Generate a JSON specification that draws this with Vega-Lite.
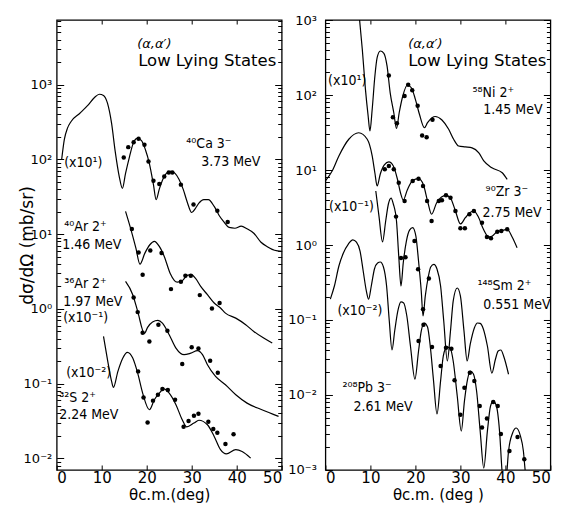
{
  "$schema": "https://vega.github.io/schema/vega-lite/v6.json",
  "background": "white",
  "padding": {"left": 17.7, "top": 13, "right": 12, "bottom": 2},
  "config": {
    "view": {"stroke": "black", "strokeWidth": 1.3},
    "font": "DejaVu Sans",
    "axis": {"domain": false, "grid": false, "tickColor": "black", "tickWidth": 1, "labelColor": "black", "labelFont": "DejaVu Sans", "labelFontSize": 13, "titleFont": "DejaVu Sans", "titleFontWeight": "normal", "titleColor": "black", "titleFontSize": 15},
    "text": {"font": "DejaVu Sans", "color": "black", "align": "left", "baseline": "alphabetic"}
  },
  "bounds": "flush",
  "spacing": 43.7,
  "hconcat": [
    {
      "width": 225,
      "height": 450,
      "resolve": {"axis": {"x": "independent", "y": "independent"}},
      "layer": [
        {
          "data": {"values": [
            {"curve":"Ca","deg":1.1,"xs":99},{"curve":"Ca","deg":1.7,"xs":185},{"curve":"Ca","deg":2.4,"xs":262},{"curve":"Ca","deg":3.2,"xs":322},{"curve":"Ca","deg":5.1,"xs":412},{"curve":"Ca","deg":6.9,"xs":527},{"curve":"Ca","deg":8.4,"xs":675},{"curve":"Ca","deg":9.5,"xs":745},{"curve":"Ca","deg":10.4,"xs":718},{"curve":"Ca","deg":11.3,"xs":561},{"curve":"Ca","deg":12.2,"xs":303},{"curve":"Ca","deg":13.0,"xs":128},{"curve":"Ca","deg":13.9,"xs":59},{"curve":"Ca","deg":14.6,"xs":41},{"curve":"Ca","deg":15.3,"xs":65},{"curve":"Ca","deg":16.2,"xs":110},{"curve":"Ca","deg":17.0,"xs":164},{"curve":"Ca","deg":17.9,"xs":191},{"curve":"Ca","deg":18.8,"xs":180},{"curve":"Ca","deg":19.7,"xs":136},{"curve":"Ca","deg":20.6,"xs":88},{"curve":"Ca","deg":21.5,"xs":46},{"curve":"Ca","deg":22.1,"xs":29},{"curve":"Ca","deg":22.8,"xs":40},{"curve":"Ca","deg":23.7,"xs":56},{"curve":"Ca","deg":24.6,"xs":67},{"curve":"Ca","deg":25.4,"xs":69},{"curve":"Ca","deg":26.3,"xs":65},{"curve":"Ca","deg":27.2,"xs":54},{"curve":"Ca","deg":28.1,"xs":40},{"curve":"Ca","deg":29.0,"xs":27},{"curve":"Ca","deg":30.0,"xs":19.5},{"curve":"Ca","deg":30.8,"xs":22},{"curve":"Ca","deg":31.6,"xs":26},{"curve":"Ca","deg":32.7,"xs":29},{"curve":"Ca","deg":33.7,"xs":29},{"curve":"Ca","deg":35.0,"xs":23.5},{"curve":"Ca","deg":36.1,"xs":17.8},{"curve":"Ca","deg":37.2,"xs":14.5},{"curve":"Ca","deg":38.3,"xs":12.3},{"curve":"Ca","deg":39.6,"xs":12.0},{"curve":"Ca","deg":41.0,"xs":12.8},{"curve":"Ca","deg":42.3,"xs":11.8},{"curve":"Ca","deg":43.8,"xs":10.3},{"curve":"Ca","deg":45.4,"xs":7.8},{"curve":"Ca","deg":46.8,"xs":6.8},{"curve":"Ca","deg":48.4,"xs":6.1},{"curve":"Ca","deg":50.0,"xs":5.9},
            {"curve":"Ar40","deg":15.3,"xs":20.2},{"curve":"Ar40","deg":16.5,"xs":11.5},{"curve":"Ar40","deg":17.6,"xs":6.5},{"curve":"Ar40","deg":18.5,"xs":3.97},{"curve":"Ar40","deg":19.6,"xs":5.58},{"curve":"Ar40","deg":20.7,"xs":7.22},{"curve":"Ar40","deg":21.7,"xs":8.0},{"curve":"Ar40","deg":22.8,"xs":6.86},{"curve":"Ar40","deg":23.9,"xs":5.04},{"curve":"Ar40","deg":25.2,"xs":3.01},{"curve":"Ar40","deg":26.8,"xs":2.28},{"curve":"Ar40","deg":27.9,"xs":2.38},{"curve":"Ar40","deg":29.0,"xs":2.81},{"curve":"Ar40","deg":29.9,"xs":2.87},{"curve":"Ar40","deg":30.9,"xs":2.54},{"curve":"Ar40","deg":32.0,"xs":2.0},{"curve":"Ar40","deg":33.5,"xs":1.55},{"curve":"Ar40","deg":35.0,"xs":1.2},{"curve":"Ar40","deg":36.4,"xs":1.03},{"curve":"Ar40","deg":37.5,"xs":0.879},{"curve":"Ar40","deg":39.8,"xs":0.753},{"curve":"Ar40","deg":42.0,"xs":0.615},{"curve":"Ar40","deg":43.8,"xs":0.5},{"curve":"Ar40","deg":46.0,"xs":0.407},{"curve":"Ar40","deg":47.9,"xs":0.349},
            {"curve":"Ar36","deg":15.3,"xs":2.33},{"curve":"Ar36","deg":16.9,"xs":1.55},{"curve":"Ar36","deg":18.0,"xs":0.926},{"curve":"Ar36","deg":19.5,"xs":0.47},{"curve":"Ar36","deg":20.2,"xs":0.566},{"curve":"Ar36","deg":21.3,"xs":0.67},{"curve":"Ar36","deg":22.5,"xs":0.702},{"curve":"Ar36","deg":23.5,"xs":0.646},{"curve":"Ar36","deg":25.0,"xs":0.452},{"curve":"Ar36","deg":26.5,"xs":0.299},{"curve":"Ar36","deg":28.3,"xs":0.244},{"curve":"Ar36","deg":29.8,"xs":0.256},{"curve":"Ar36","deg":31.3,"xs":0.276},{"curve":"Ar36","deg":32.4,"xs":0.244},{"curve":"Ar36","deg":33.5,"xs":0.179},{"curve":"Ar36","deg":35.3,"xs":0.125},{"curve":"Ar36","deg":37.5,"xs":0.0968},{"curve":"Ar36","deg":39.8,"xs":0.0711},{"curve":"Ar36","deg":42.3,"xs":0.0549},{"curve":"Ar36","deg":45.6,"xs":0.0448},{"curve":"Ar36","deg":49.3,"xs":0.0365},
            {"curve":"S32","deg":10.4,"xs":0.429},{"curve":"S32","deg":11.35,"xs":0.199},{"curve":"S32","deg":12.2,"xs":0.107},{"curve":"S32","deg":12.6,"xs":0.089},{"curve":"S32","deg":13.6,"xs":0.146},{"curve":"S32","deg":14.7,"xs":0.22},{"curve":"S32","deg":15.7,"xs":0.262},{"curve":"S32","deg":16.9,"xs":0.22},{"curve":"S32","deg":18.0,"xs":0.138},{"curve":"S32","deg":19.1,"xs":0.0747},{"curve":"S32","deg":20.6,"xs":0.0448},{"curve":"S32","deg":21.7,"xs":0.061},{"curve":"S32","deg":22.8,"xs":0.0747},{"curve":"S32","deg":23.8,"xs":0.085},{"curve":"S32","deg":25.0,"xs":0.0747},{"curve":"S32","deg":26.5,"xs":0.0523},{"curve":"S32","deg":27.9,"xs":0.0329},{"curve":"S32","deg":28.9,"xs":0.0264},{"curve":"S32","deg":30.5,"xs":0.0297},{"curve":"S32","deg":31.6,"xs":0.0324},{"curve":"S32","deg":33.5,"xs":0.0282},{"curve":"S32","deg":35.0,"xs":0.0197},{"curve":"S32","deg":36.4,"xs":0.0131},{"curve":"S32","deg":37.7,"xs":0.0115},{"curve":"S32","deg":39.8,"xs":0.0131},{"curve":"S32","deg":41.2,"xs":0.0124},{"curve":"S32","deg":43.1,"xs":0.0101}
          ]},
          "mark": {"type": "line", "color": "black", "strokeWidth": 1.2, "clip": true, "interpolate": "monotone"},
          "encoding": {
            "x": {"field": "deg", "type": "quantitative", "scale": {"domain": [0, 50], "nice": false, "zero": false},
                  "axis": {"orient": "bottom", "values": [0, 10, 20, 30, 40, 50], "tickSize": -5, "labelPadding": 6, "labelFontSize": 15, "title": "θc.m.(deg)", "titlePadding": 2}},
            "y": {"field": "xs", "type": "quantitative", "scale": {"type": "log", "domain": [0.007, 7330], "nice": false},
                  "axis": {"orient": "left", "values": [0.01, 0.1, 1, 10, 100, 1000], "tickSize": -7, "labelPadding": 12,
                           "labelExpr": "datum.value >= 999 ? '10³' : datum.value >= 99 ? '10²' : datum.value >= 9 ? '10¹' : datum.value >= 0.9 ? '10⁰' : datum.value >= 0.09 ? '10⁻¹' : datum.value >= 0.009 ? '10⁻²' : '10⁻³'",
                           "title": "dσ/dΩ  (mb/sr)", "titleFontSize": 17, "titlePadding": -13.9}},
            "detail": {"field": "curve"}
          }
        },
        {
          "data": {"values": [
            {"curve":"Ca","deg":14.9,"xs":106},{"curve":"Ca","deg":15.9,"xs":146},{"curve":"Ca","deg":17.1,"xs":170},{"curve":"Ca","deg":18.2,"xs":189},{"curve":"Ca","deg":19.5,"xs":157},{"curve":"Ca","deg":20.4,"xs":94},{"curve":"Ca","deg":21.5,"xs":52},{"curve":"Ca","deg":22.8,"xs":47},{"curve":"Ca","deg":23.9,"xs":59},{"curve":"Ca","deg":24.9,"xs":67},{"curve":"Ca","deg":25.7,"xs":67},{"curve":"Ca","deg":27.6,"xs":46},{"curve":"Ca","deg":30.4,"xs":25},{"curve":"Ca","deg":35.7,"xs":20.6},{"curve":"Ca","deg":38.0,"xs":14.5},
            {"curve":"Ar40","deg":16.7,"xs":11.7},{"curve":"Ar40","deg":18.2,"xs":5.7},{"curve":"Ar40","deg":19.1,"xs":2.87},{"curve":"Ar40","deg":20.8,"xs":6.06},{"curve":"Ar40","deg":23.3,"xs":5.58},{"curve":"Ar40","deg":25.4,"xs":1.84},{"curve":"Ar40","deg":27.6,"xs":2.31},{"curve":"Ar40","deg":28.6,"xs":2.78},{"curve":"Ar40","deg":29.8,"xs":2.78},{"curve":"Ar40","deg":31.8,"xs":1.53},{"curve":"Ar40","deg":34.5,"xs":1.01},{"curve":"Ar40","deg":36.2,"xs":1.2},
            {"curve":"Ar36","deg":17.1,"xs":1.42},{"curve":"Ar36","deg":18.0,"xs":0.906},{"curve":"Ar36","deg":19.1,"xs":0.48},{"curve":"Ar36","deg":20.6,"xs":0.367},{"curve":"Ar36","deg":22.6,"xs":0.615},{"curve":"Ar36","deg":24.6,"xs":0.511},{"curve":"Ar36","deg":27.9,"xs":0.183},{"curve":"Ar36","deg":30.0,"xs":0.307},{"curve":"Ar36","deg":31.5,"xs":0.296},{"curve":"Ar36","deg":34.1,"xs":0.203},{"curve":"Ar36","deg":35.8,"xs":0.14},
            {"curve":"S32","deg":18.1,"xs":0.146},{"curve":"S32","deg":19.3,"xs":0.0655},{"curve":"S32","deg":20.2,"xs":0.0303},{"curve":"S32","deg":21.4,"xs":0.0593},{"curve":"S32","deg":22.5,"xs":0.0711},{"curve":"S32","deg":23.5,"xs":0.085},{"curve":"S32","deg":24.7,"xs":0.082},{"curve":"S32","deg":26.3,"xs":0.061},{"curve":"S32","deg":28.2,"xs":0.0266},{"curve":"S32","deg":29.3,"xs":0.0316},{"curve":"S32","deg":30.5,"xs":0.0373},{"curve":"S32","deg":31.5,"xs":0.0396},{"curve":"S32","deg":33.7,"xs":0.031},{"curve":"S32","deg":34.8,"xs":0.0247},{"curve":"S32","deg":35.7,"xs":0.0221},{"curve":"S32","deg":37.5,"xs":0.0156},{"curve":"S32","deg":39.3,"xs":0.0211}
          ]},
          "mark": {"type": "circle", "color": "black", "opacity": 1, "size": 20},
          "encoding": {
            "x": {"field": "deg", "type": "quantitative", "axis": {"orient": "top", "values": [10, 20, 30, 40], "tickSize": -4, "labels": false, "title": null}},
            "y": {"field": "xs", "type": "quantitative", "axis": {"orient": "right", "values": [0.01, 0.1, 1, 10, 100, 1000], "tickSize": -7, "labels": false, "title": null}}
          }
        },
        {
          "data": {"values": [{"label": "(α,α′)", "deg": 17.9, "xs": 3055}]},
          "mark": {"type": "text", "fontSize": 13, "fontStyle": "italic"},
          "encoding": {
            "x": {"field": "deg", "type": "quantitative", "axis": null},
            "y": {"field": "xs", "type": "quantitative", "axis": {"orient": "left", "values": [0.008,0.009,0.02,0.03,0.04,0.05,0.06,0.07,0.08,0.09,0.2,0.3,0.4,0.5,0.6,0.7,0.8,0.9,2,3,4,5,6,7,8,9,20,30,40,50,60,70,80,90,200,300,400,500,600,700,800,900,2000,3000,4000,5000,6000,7000], "tickSize": -4, "labels": false, "title": null}},
            "text": {"field": "label"}
          }
        },
        {
          "data": {"values": [{"label": "Low Lying States", "deg": 18.1, "xs": 1754}]},
          "mark": {"type": "text", "fontSize": 16.5},
          "encoding": {
            "x": {"field": "deg", "type": "quantitative", "axis": null},
            "y": {"field": "xs", "type": "quantitative", "axis": {"orient": "right", "values": [0.008,0.009,0.02,0.03,0.04,0.05,0.06,0.07,0.08,0.09,0.2,0.3,0.4,0.5,0.6,0.7,0.8,0.9,2,3,4,5,6,7,8,9,20,30,40,50,60,70,80,90,200,300,400,500,600,700,800,900,2000,3000,4000,5000,6000,7000], "tickSize": -4, "labels": false, "title": null}},
            "text": {"field": "label"}
          }
        },
        {
          "data": {"values": [
            {"label": "⁴⁰Ca  3⁻", "deg": 28.8, "xs": 140},
            {"label": "3.73 MeV", "deg": 32.1, "xs": 80.6},
            {"label": "(x10¹)", "deg": 1.67, "xs": 78.2},
            {"label": "⁴⁰Ar  2⁺", "deg": 1.67, "xs": 10.9},
            {"label": "1.46 MeV", "deg": 1.22, "xs": 6.25},
            {"label": "³⁶Ar  2⁺", "deg": 1.67, "xs": 1.9},
            {"label": "1.97 MeV", "deg": 1.44, "xs": 1.1},
            {"label": "(x10⁻¹)", "deg": 1.44, "xs": 0.665},
            {"label": "(x10⁻²)", "deg": 2.11, "xs": 0.121},
            {"label": "³²S   2⁺", "deg": 0.56, "xs": 0.0561},
            {"label": "2.24 MeV", "deg": 0.56, "xs": 0.0335}
          ]},
          "mark": {"type": "text", "fontSize": 14, "font": "DejaVu Sans Condensed"},
          "encoding": {
            "x": {"field": "deg", "type": "quantitative", "axis": null},
            "y": {"field": "xs", "type": "quantitative", "axis": null},
            "text": {"field": "label"}
          }
        }
      ]
    },
    {
      "width": 225,
      "height": 450,
      "resolve": {"axis": {"x": "independent", "y": "independent"}},
      "layer": [
        {
          "data": {"values": [
            {"curve":"Ni","deg":6.9,"xs":2500},{"curve":"Ni","deg":7.6,"xs":1000},{"curve":"Ni","deg":8.2,"xs":407},{"curve":"Ni","deg":8.9,"xs":119},{"curve":"Ni","deg":9.5,"xs":52.5},{"curve":"Ni","deg":9.9,"xs":33.1},{"curve":"Ni","deg":10.4,"xs":64.5},{"curve":"Ni","deg":11.0,"xs":179},{"curve":"Ni","deg":11.5,"xs":314},{"curve":"Ni","deg":12.2,"xs":386},{"curve":"Ni","deg":13.0,"xs":360},{"curve":"Ni","deg":13.7,"xs":244},{"curve":"Ni","deg":14.4,"xs":107},{"curve":"Ni","deg":15.2,"xs":58},{"curve":"Ni","deg":15.8,"xs":35.8},{"curve":"Ni","deg":16.4,"xs":58},{"curve":"Ni","deg":17.2,"xs":97},{"curve":"Ni","deg":18.2,"xs":136},{"curve":"Ni","deg":19.1,"xs":125},{"curve":"Ni","deg":20.0,"xs":87.6},{"curve":"Ni","deg":20.9,"xs":55.3},{"curve":"Ni","deg":22.0,"xs":36.6},{"curve":"Ni","deg":22.7,"xs":42.7},{"curve":"Ni","deg":23.7,"xs":49.8},{"curve":"Ni","deg":24.4,"xs":51.7},{"curve":"Ni","deg":25.9,"xs":46.4},{"curve":"Ni","deg":27.4,"xs":34.9},{"curve":"Ni","deg":28.5,"xs":25.7},{"curve":"Ni","deg":29.6,"xs":20.9},{"curve":"Ni","deg":31.1,"xs":20.3},{"curve":"Ni","deg":32.6,"xs":19.7},{"curve":"Ni","deg":34.1,"xs":16.9},{"curve":"Ni","deg":35.2,"xs":13.2},{"curve":"Ni","deg":37.0,"xs":10.7},{"curve":"Ni","deg":39.3,"xs":9.2},{"curve":"Ni","deg":40.4,"xs":7.5},
            {"curve":"Zr","deg":0.0,"xs":7.14},{"curve":"Zr","deg":1.5,"xs":9.7},{"curve":"Zr","deg":3.0,"xs":15.4},{"curve":"Zr","deg":5.2,"xs":25.7},{"curve":"Zr","deg":7.4,"xs":31.4},{"curve":"Zr","deg":9.3,"xs":25.7},{"curve":"Zr","deg":10.4,"xs":15.4},{"curve":"Zr","deg":11.0,"xs":9.12},{"curve":"Zr","deg":11.5,"xs":6.12},{"curve":"Zr","deg":12.2,"xs":8.85},{"curve":"Zr","deg":13.1,"xs":11.7},{"curve":"Zr","deg":14.1,"xs":12.8},{"curve":"Zr","deg":15.1,"xs":11.3},{"curve":"Zr","deg":16.0,"xs":7.59},{"curve":"Zr","deg":16.7,"xs":4.94},{"curve":"Zr","deg":17.3,"xs":3.98},{"curve":"Zr","deg":18.2,"xs":5.41},{"curve":"Zr","deg":19.3,"xs":7.14},{"curve":"Zr","deg":20.7,"xs":7.66},{"curve":"Zr","deg":21.8,"xs":6.31},{"curve":"Zr","deg":22.7,"xs":3.86},{"curve":"Zr","deg":23.6,"xs":2.57},{"curve":"Zr","deg":24.7,"xs":3.63},{"curve":"Zr","deg":25.8,"xs":4.37},{"curve":"Zr","deg":26.8,"xs":4.6},{"curve":"Zr","deg":27.8,"xs":4.23},{"curve":"Zr","deg":28.9,"xs":2.84},{"curve":"Zr","deg":30.0,"xs":1.91},{"curve":"Zr","deg":31.1,"xs":2.31},{"curve":"Zr","deg":32.0,"xs":2.67},{"curve":"Zr","deg":33.0,"xs":2.84},{"curve":"Zr","deg":34.0,"xs":2.36},{"curve":"Zr","deg":35.1,"xs":1.63},{"curve":"Zr","deg":36.3,"xs":1.28},{"curve":"Zr","deg":37.1,"xs":1.32},{"curve":"Zr","deg":38.2,"xs":1.51},{"curve":"Zr","deg":39.1,"xs":1.54},{"curve":"Zr","deg":40.4,"xs":1.62},{"curve":"Zr","deg":41.5,"xs":1.28},{"curve":"Zr","deg":42.6,"xs":0.92},
            {"curve":"Sm","deg":11.2,"xs":5.25},{"curve":"Sm","deg":11.9,"xs":2.44},{"curve":"Sm","deg":12.7,"xs":1.1},{"curve":"Sm","deg":13.4,"xs":2.09},{"curve":"Sm","deg":14.0,"xs":3.52},{"curve":"Sm","deg":14.6,"xs":4.23},{"curve":"Sm","deg":15.1,"xs":3.52},{"curve":"Sm","deg":15.8,"xs":2.09},{"curve":"Sm","deg":16.3,"xs":0.713},{"curve":"Sm","deg":16.8,"xs":0.284},{"curve":"Sm","deg":17.3,"xs":0.575},{"curve":"Sm","deg":18.0,"xs":1.13},{"curve":"Sm","deg":18.7,"xs":1.58},{"curve":"Sm","deg":19.4,"xs":1.71},{"curve":"Sm","deg":20.1,"xs":1.32},{"curve":"Sm","deg":20.7,"xs":0.612},{"curve":"Sm","deg":21.3,"xs":0.244},{"curve":"Sm","deg":21.7,"xs":0.113},{"curve":"Sm","deg":22.2,"xs":0.209},{"curve":"Sm","deg":22.9,"xs":0.386},{"curve":"Sm","deg":23.4,"xs":0.509},{"curve":"Sm","deg":24.1,"xs":0.553},{"curve":"Sm","deg":24.8,"xs":0.479},{"curve":"Sm","deg":25.6,"xs":0.284},{"curve":"Sm","deg":26.3,"xs":0.097},{"curve":"Sm","deg":27.1,"xs":0.0284},{"curve":"Sm","deg":27.8,"xs":0.0713},{"curve":"Sm","deg":28.4,"xs":0.179},{"curve":"Sm","deg":29.3,"xs":0.267},{"curve":"Sm","deg":30.0,"xs":0.209},{"curve":"Sm","deg":30.8,"xs":0.0713},{"curve":"Sm","deg":31.5,"xs":0.0284},{"curve":"Sm","deg":32.2,"xs":0.0479},{"curve":"Sm","deg":33.1,"xs":0.0782},{"curve":"Sm","deg":33.8,"xs":0.0912},{"curve":"Sm","deg":34.4,"xs":0.09},{"curve":"Sm","deg":35.1,"xs":0.0759},{"curve":"Sm","deg":36.0,"xs":0.045},{"curve":"Sm","deg":37.0,"xs":0.0196},{"curve":"Sm","deg":37.8,"xs":0.0302},{"curve":"Sm","deg":38.4,"xs":0.0386},{"curve":"Sm","deg":39.0,"xs":0.0398},{"curve":"Sm","deg":39.6,"xs":0.0331},{"curve":"Sm","deg":40.7,"xs":0.0189},
            {"curve":"Pb","deg":1.1,"xs":0.19},{"curve":"Pb","deg":2.0,"xs":0.284},{"curve":"Pb","deg":3.0,"xs":0.525},{"curve":"Pb","deg":4.0,"xs":0.782},{"curve":"Pb","deg":5.1,"xs":1.03},{"curve":"Pb","deg":6.1,"xs":1.17},{"curve":"Pb","deg":6.9,"xs":1.09},{"curve":"Pb","deg":7.7,"xs":0.83},{"curve":"Pb","deg":8.4,"xs":0.45},{"curve":"Pb","deg":9.1,"xs":0.244},{"curve":"Pb","deg":9.6,"xs":0.189},{"curve":"Pb","deg":10.2,"xs":0.284},{"curve":"Pb","deg":10.9,"xs":0.479},{"curve":"Pb","deg":11.6,"xs":0.575},{"curve":"Pb","deg":12.2,"xs":0.593},{"curve":"Pb","deg":12.9,"xs":0.509},{"curve":"Pb","deg":13.6,"xs":0.284},{"curve":"Pb","deg":14.2,"xs":0.097},{"curve":"Pb","deg":14.8,"xs":0.0398},{"curve":"Pb","deg":15.4,"xs":0.0713},{"curve":"Pb","deg":16.1,"xs":0.132},{"curve":"Pb","deg":16.8,"xs":0.174},{"curve":"Pb","deg":17.4,"xs":0.169},{"curve":"Pb","deg":18.1,"xs":0.113},{"curve":"Pb","deg":18.9,"xs":0.045},{"curve":"Pb","deg":19.9,"xs":0.0163},{"curve":"Pb","deg":20.7,"xs":0.0386},{"curve":"Pb","deg":21.3,"xs":0.0713},{"curve":"Pb","deg":22.0,"xs":0.0912},{"curve":"Pb","deg":22.7,"xs":0.0807},{"curve":"Pb","deg":23.3,"xs":0.045},{"curve":"Pb","deg":24.0,"xs":0.0163},{"curve":"Pb","deg":24.8,"xs":0.00558},{"curve":"Pb","deg":25.6,"xs":0.0154},{"curve":"Pb","deg":26.2,"xs":0.0331},{"curve":"Pb","deg":27.0,"xs":0.0437},{"curve":"Pb","deg":27.8,"xs":0.0411},{"curve":"Pb","deg":28.4,"xs":0.0284},{"curve":"Pb","deg":29.3,"xs":0.0097},{"curve":"Pb","deg":30.2,"xs":0.0033},{"curve":"Pb","deg":30.9,"xs":0.0083},{"curve":"Pb","deg":31.6,"xs":0.0163},{"curve":"Pb","deg":32.2,"xs":0.0209},{"curve":"Pb","deg":32.9,"xs":0.019},{"curve":"Pb","deg":33.6,"xs":0.0113},{"curve":"Pb","deg":34.4,"xs":0.0033},{"curve":"Pb","deg":35.2,"xs":0.00106},{"curve":"Pb","deg":36.0,"xs":0.0033},{"curve":"Pb","deg":36.7,"xs":0.00713},{"curve":"Pb","deg":37.3,"xs":0.0083},{"curve":"Pb","deg":38.0,"xs":0.00713},{"curve":"Pb","deg":38.7,"xs":0.0033},{"curve":"Pb","deg":39.3,"xs":0.0009},{"curve":"Pb","deg":39.8,"xs":0.0006},{"curve":"Pb","deg":40.3,"xs":0.0009},{"curve":"Pb","deg":40.7,"xs":0.00179},{"curve":"Pb","deg":41.6,"xs":0.00311},{"curve":"Pb","deg":42.4,"xs":0.00363},{"curve":"Pb","deg":43.3,"xs":0.0029},{"curve":"Pb","deg":44.0,"xs":0.00179},{"curve":"Pb","deg":44.4,"xs":0.00098},{"curve":"Pb","deg":44.7,"xs":0.0007}
          ]},
          "mark": {"type": "line", "color": "black", "strokeWidth": 1.2, "clip": true, "interpolate": "monotone"},
          "encoding": {
            "x": {"field": "deg", "type": "quantitative", "scale": {"domain": [0, 50], "nice": false, "zero": false},
                  "axis": {"orient": "bottom", "values": [0, 10, 20, 30, 40, 50], "tickSize": -5, "labelPadding": 6, "labelFontSize": 15, "title": "θc.m. (deg )", "titlePadding": 2}},
            "y": {"field": "xs", "type": "quantitative", "scale": {"type": "log", "domain": [0.001, 1000], "nice": false},
                  "axis": {"orient": "left", "values": [0.001, 0.01, 0.1, 1, 10, 100, 1000], "tickSize": -7, "labelPadding": 16,
                           "labelExpr": "datum.value >= 999 ? '10³' : datum.value >= 99 ? '10²' : datum.value >= 9 ? '10¹' : datum.value >= 0.9 ? '10⁰' : datum.value >= 0.09 ? '10⁻¹' : datum.value >= 0.009 ? '10⁻²' : '10⁻³'",
                           "title": null}},
            "detail": {"field": "curve"}
          }
        },
        {
          "data": {"values": [
            {"curve":"Ni","deg":14.1,"xs":182},{"curve":"Ni","deg":15.0,"xs":50.4},{"curve":"Ni","deg":15.9,"xs":42},{"curve":"Ni","deg":17.6,"xs":97},{"curve":"Ni","deg":18.4,"xs":137},{"curve":"Ni","deg":19.3,"xs":116},{"curve":"Ni","deg":20.5,"xs":72},{"curve":"Ni","deg":21.5,"xs":28.8},{"curve":"Ni","deg":22.5,"xs":27.3},{"curve":"Ni","deg":23.8,"xs":46.9},
            {"curve":"Zr","deg":13.2,"xs":10.2},{"curve":"Zr","deg":14.1,"xs":11.3},{"curve":"Zr","deg":15.2,"xs":10.2},{"curve":"Zr","deg":16.3,"xs":6.77},{"curve":"Zr","deg":17.6,"xs":3.86},{"curve":"Zr","deg":19.4,"xs":7.14},{"curve":"Zr","deg":20.7,"xs":7.66},{"curve":"Zr","deg":21.7,"xs":6.12},{"curve":"Zr","deg":22.6,"xs":3.86},{"curve":"Zr","deg":23.6,"xs":2.09},{"curve":"Zr","deg":25.2,"xs":3.86},{"curve":"Zr","deg":25.9,"xs":3.94},{"curve":"Zr","deg":26.8,"xs":4.6},{"curve":"Zr","deg":27.8,"xs":4.27},{"curve":"Zr","deg":28.9,"xs":2.84},{"curve":"Zr","deg":30.0,"xs":1.67},{"curve":"Zr","deg":31.0,"xs":1.67},{"curve":"Zr","deg":32.0,"xs":2.57},{"curve":"Zr","deg":33.0,"xs":2.84},{"curve":"Zr","deg":34.8,"xs":1.98},{"curve":"Zr","deg":35.9,"xs":1.28},{"curve":"Zr","deg":36.8,"xs":1.23},{"curve":"Zr","deg":38.2,"xs":1.5},{"curve":"Zr","deg":39.1,"xs":1.54},{"curve":"Zr","deg":40.4,"xs":1.62},
            {"curve":"Sm","deg":15.7,"xs":2.39},{"curve":"Sm","deg":16.8,"xs":0.671},{"curve":"Sm","deg":17.8,"xs":0.686},{"curve":"Sm","deg":19.8,"xs":1.13},{"curve":"Sm","deg":20.6,"xs":0.474},{"curve":"Sm","deg":21.7,"xs":0.139},{"curve":"Sm","deg":23.0,"xs":0.358},
            {"curve":"Pb","deg":20.7,"xs":0.0525},{"curve":"Pb","deg":21.8,"xs":0.0866},{"curve":"Pb","deg":23.7,"xs":0.0437},{"curve":"Pb","deg":25.6,"xs":0.0244},{"curve":"Pb","deg":26.8,"xs":0.0427},{"curve":"Pb","deg":28.0,"xs":0.0414},{"curve":"Pb","deg":28.7,"xs":0.0157},{"curve":"Pb","deg":30.0,"xs":0.00546},{"curve":"Pb","deg":30.9,"xs":0.0125},{"curve":"Pb","deg":32.1,"xs":0.0198},{"curve":"Pb","deg":33.1,"xs":0.0154},{"curve":"Pb","deg":34.3,"xs":0.00713},{"curve":"Pb","deg":34.8,"xs":0.00369},{"curve":"Pb","deg":35.9,"xs":0.00486},{"curve":"Pb","deg":37.3,"xs":0.00807},{"curve":"Pb","deg":38.3,"xs":0.00713},{"curve":"Pb","deg":39.0,"xs":0.00302},{"curve":"Pb","deg":40.9,"xs":0.00179},{"curve":"Pb","deg":42.7,"xs":0.00275},{"curve":"Pb","deg":44.2,"xs":0.00139}
          ]},
          "mark": {"type": "circle", "color": "black", "opacity": 1, "size": 20},
          "encoding": {
            "x": {"field": "deg", "type": "quantitative", "axis": {"orient": "top", "values": [10, 20, 30, 40], "tickSize": -4, "labels": false, "title": null}},
            "y": {"field": "xs", "type": "quantitative", "axis": {"orient": "right", "values": [0.001, 0.01, 0.1, 1, 10, 100, 1000], "tickSize": -7, "labels": false, "title": null}}
          }
        },
        {
          "data": {"values": [{"label": "(α,α′)", "deg": 18.4, "xs": 423}]},
          "mark": {"type": "text", "fontSize": 13, "fontStyle": "italic"},
          "encoding": {
            "x": {"field": "deg", "type": "quantitative", "axis": null},
            "y": {"field": "xs", "type": "quantitative", "axis": {"orient": "left", "values": [0.002,0.003,0.004,0.005,0.006,0.007,0.008,0.009,0.02,0.03,0.04,0.05,0.06,0.07,0.08,0.09,0.2,0.3,0.4,0.5,0.6,0.7,0.8,0.9,2,3,4,5,6,7,8,9,20,30,40,50,60,70,80,90,200,300,400,500,600,700,800,900], "tickSize": -4, "labels": false, "title": null}},
            "text": {"field": "label"}
          }
        },
        {
          "data": {"values": [{"label": "Low Lying States", "deg": 18.4, "xs": 244}]},
          "mark": {"type": "text", "fontSize": 16.5},
          "encoding": {
            "x": {"field": "deg", "type": "quantitative", "axis": null},
            "y": {"field": "xs", "type": "quantitative", "axis": {"orient": "right", "values": [0.002,0.003,0.004,0.005,0.006,0.007,0.008,0.009,0.02,0.03,0.04,0.05,0.06,0.07,0.08,0.09,0.2,0.3,0.4,0.5,0.6,0.7,0.8,0.9,2,3,4,5,6,7,8,9,20,30,40,50,60,70,80,90,200,300,400,500,600,700,800,900], "tickSize": -4, "labels": false, "title": null}},
            "text": {"field": "label"}
          }
        },
        {
          "data": {"values": [
            {"label": "(x10¹)", "deg": 0.6, "xs": 136},
            {"label": "⁵⁸Ni  2⁺", "deg": 32.7, "xs": 94},
            {"label": "1.45 MeV", "deg": 35.1, "xs": 55.8},
            {"label": "⁹⁰Zr  3⁻", "deg": 35.6, "xs": 4.5},
            {"label": "2.75 MeV", "deg": 34.9, "xs": 2.36},
            {"label": "(x10⁻¹)", "deg": 0.8, "xs": 2.84},
            {"label": "¹⁴⁸Sm  2⁺", "deg": 33.8, "xs": 0.25},
            {"label": "0.551 MeV", "deg": 35.1, "xs": 0.142},
            {"label": "(x10⁻²)", "deg": 2.67, "xs": 0.117},
            {"label": "²⁰⁸Pb  3⁻", "deg": 3.78, "xs": 0.011},
            {"label": "2.61 MeV", "deg": 6.22, "xs": 0.0062}
          ]},
          "mark": {"type": "text", "fontSize": 14, "font": "DejaVu Sans Condensed"},
          "encoding": {
            "x": {"field": "deg", "type": "quantitative", "axis": null},
            "y": {"field": "xs", "type": "quantitative", "axis": null},
            "text": {"field": "label"}
          }
        }
      ]
    }
  ]
}
